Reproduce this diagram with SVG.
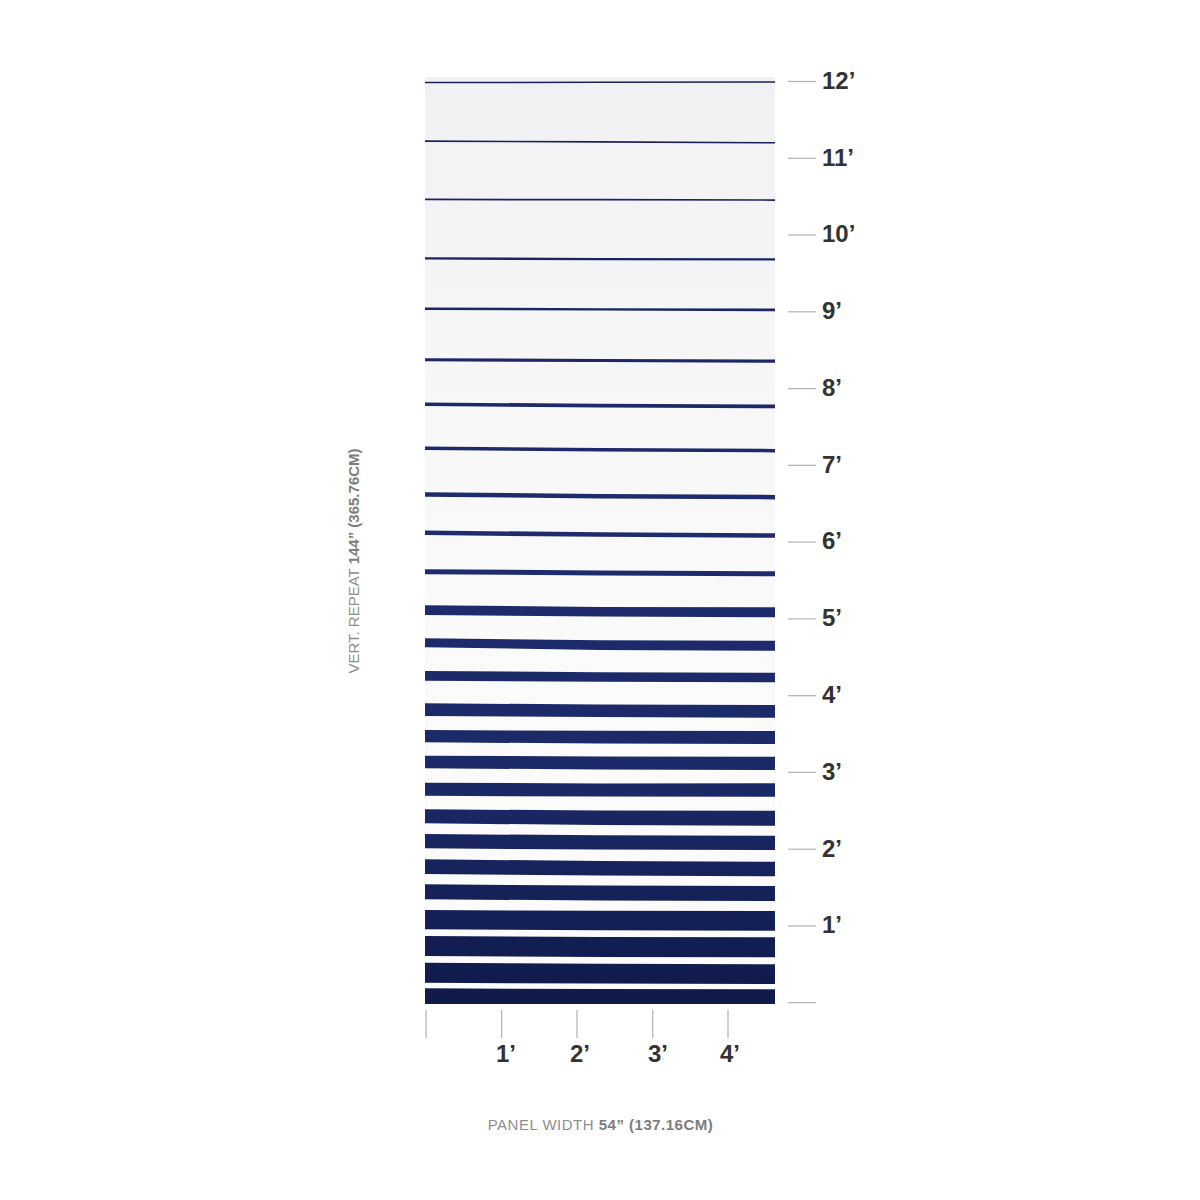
<svg xmlns="http://www.w3.org/2000/svg" width="1200" height="1200" viewBox="0 0 1200 1200">
<style>
.tick{stroke:#b3b3b3;stroke-width:1.2;fill:none}
.lbl{font-family:"Liberation Sans",Arial,sans-serif;font-weight:bold;font-size:24px;fill:#333333}
.cap{font-family:"Liberation Sans",Arial,sans-serif;font-size:15px;fill:#8e8e8e}
.capb{font-weight:bold;fill:#7d7d7d}
.st{fill:url(#ink)}
</style>
<defs>
<linearGradient id="bg" x1="0" y1="76" x2="0" y2="1004" gradientUnits="userSpaceOnUse">
<stop offset="0" stop-color="#f1f1f4"/>
<stop offset="0.3" stop-color="#f6f6f7"/>
<stop offset="0.6" stop-color="#fafafa"/>
<stop offset="1" stop-color="#fbfbfb"/>
</linearGradient>
<linearGradient id="ink" x1="0" y1="80" x2="0" y2="1004" gradientUnits="userSpaceOnUse">
<stop offset="0" stop-color="#1a2058"/>
<stop offset="0.5" stop-color="#1e2c6e"/>
<stop offset="0.75" stop-color="#1b2968"/>
<stop offset="1" stop-color="#0f1a4a"/>
</linearGradient>
</defs>
<rect width="1200" height="1200" fill="#ffffff"/>
<g id="panel">
<rect x="425" y="77" width="350" height="927" fill="url(#bg)"/>
<g id="stripes">
<path class="st" d="M425,81.8 L600,81.6 L775,81.2 L775,82.8 L600,83.1 L425,83.3 Z"/>
<path class="st" d="M425,140.3 L600,141.0 L775,142.0 L775,143.6 L600,142.7 L425,141.9 Z"/>
<path class="st" d="M425,198.6 L600,198.8 L775,199.2 L775,200.9 L600,200.5 L425,200.3 Z"/>
<path class="st" d="M425,257.2 L600,257.9 L775,258.3 L775,260.6 L600,260.3 L425,259.6 Z"/>
<path class="st" d="M425,307.5 L600,308.2 L775,308.6 L775,311.2 L600,310.6 L425,310.0 Z"/>
<path class="st" d="M425,358.2 L600,359.0 L775,359.6 L775,362.7 L600,362.1 L425,361.3 Z"/>
<path class="st" d="M425,402.5 L600,403.8 L775,404.6 L775,408.2 L600,407.4 L425,406.0 Z"/>
<path class="st" d="M425,446.5 L600,448.0 L775,448.9 L775,452.4 L600,451.6 L425,450.1 Z"/>
<path class="st" d="M425,492.2 L600,494.0 L775,494.9 L775,499.4 L600,498.6 L425,496.7 Z"/>
<path class="st" d="M425,530.6 L600,532.2 L775,533.2 L775,537.7 L600,536.8 L425,535.1 Z"/>
<path class="st" d="M425,569.2 L600,570.5 L775,571.2 L775,576.2 L600,575.4 L425,574.2 Z"/>
<path class="st" d="M425,605.3 L600,606.9 L775,607.3 L775,617.3 L600,616.6 L425,615.0 Z"/>
<path class="st" d="M425,638.3 L600,640.2 L775,640.7 L775,650.7 L600,650.0 L425,647.3 Z"/>
<path class="st" d="M425,671.0 L600,672.2 L775,672.7 L775,682.3 L600,681.8 L425,680.7 Z"/>
<path class="st" d="M425,703.3 L600,704.5 L775,705.0 L775,717.7 L600,717.0 L425,716.0 Z"/>
<path class="st" d="M425,730.0 L600,730.8 L775,731.0 L775,744.0 L600,743.5 L425,742.3 Z"/>
<path class="st" d="M425,755.7 L600,756.5 L775,756.7 L775,770.0 L600,769.5 L425,768.3 Z"/>
<path class="st" d="M425,782.7 L600,783.4 L775,783.3 L775,796.7 L600,796.6 L425,795.7 Z"/>
<path class="st" d="M425,809.3 L600,810.5 L775,810.7 L775,825.7 L600,825.0 L425,823.3 Z"/>
<path class="st" d="M425,834.0 L600,835.3 L775,835.7 L775,850.0 L600,849.6 L425,848.3 Z"/>
<path class="st" d="M425,859.3 L600,861.0 L775,861.7 L775,876.3 L600,875.6 L425,874.0 Z"/>
<path class="st" d="M425,884.3 L600,885.6 L775,886.0 L775,901.0 L600,900.5 L425,899.3 Z"/>
<path class="st" d="M425,910.0 L600,910.8 L775,911.0 L775,930.7 L600,930.3 L425,929.3 Z"/>
<path class="st" d="M425,936.0 L600,937.0 L775,937.3 L775,957.3 L600,957.0 L425,956.0 Z"/>
<path class="st" d="M425,962.7 L600,963.8 L775,964.3 L775,984.0 L600,983.6 L425,982.7 Z"/>
<path class="st" d="M425,988.3 L600,989.0 L775,989.3 L775,1004 L425,1004 Z"/>
</g>
</g>
<g id="ticks-right">
<line class="tick" x1="788" y1="81.5" x2="816" y2="81.5"/>
<line class="tick" x1="788" y1="158.3" x2="816" y2="158.3"/>
<line class="tick" x1="788" y1="235" x2="816" y2="235"/>
<line class="tick" x1="788" y1="311.8" x2="816" y2="311.8"/>
<line class="tick" x1="788" y1="388.6" x2="816" y2="388.6"/>
<line class="tick" x1="788" y1="465.3" x2="816" y2="465.3"/>
<line class="tick" x1="788" y1="542.1" x2="816" y2="542.1"/>
<line class="tick" x1="788" y1="618.9" x2="816" y2="618.9"/>
<line class="tick" x1="788" y1="695.7" x2="816" y2="695.7"/>
<line class="tick" x1="788" y1="772.4" x2="816" y2="772.4"/>
<line class="tick" x1="788" y1="849.2" x2="816" y2="849.2"/>
<line class="tick" x1="788" y1="926" x2="816" y2="926"/>
<line class="tick" x1="788" y1="1002.7" x2="816" y2="1002.7"/>
</g>
<g id="labels-right">
<text class="lbl" x="822" y="88.5">12’</text>
<text class="lbl" x="822" y="165.5">11’</text>
<text class="lbl" x="822" y="242">10’</text>
<text class="lbl" x="822" y="319">9’</text>
<text class="lbl" x="822" y="395.5">8’</text>
<text class="lbl" x="822" y="472.5">7’</text>
<text class="lbl" x="822" y="549">6’</text>
<text class="lbl" x="822" y="626">5’</text>
<text class="lbl" x="822" y="702.5">4’</text>
<text class="lbl" x="822" y="779.5">3’</text>
<text class="lbl" x="822" y="856.5">2’</text>
<text class="lbl" x="822" y="933">1’</text>
</g>
<g id="ticks-bottom">
<line class="tick" x1="426" y1="1010" x2="426" y2="1038"/>
<line class="tick" x1="501.7" y1="1010" x2="501.7" y2="1038"/>
<line class="tick" x1="577" y1="1010" x2="577" y2="1038"/>
<line class="tick" x1="652.7" y1="1010" x2="652.7" y2="1038"/>
<line class="tick" x1="728" y1="1010" x2="728" y2="1038"/>
</g>
<g id="labels-bottom">
<text class="lbl" x="496" y="1062">1’</text>
<text class="lbl" x="570" y="1062">2’</text>
<text class="lbl" x="648" y="1062">3’</text>
<text class="lbl" x="720" y="1062">4’</text>
</g>
<g id="captions">
<text class="cap" x="600.5" y="1130" text-anchor="middle" letter-spacing="0.5">PANEL WIDTH <tspan class="capb">54” (137.16CM)</tspan></text>
<text class="cap" transform="translate(358.5,561) rotate(-90)" text-anchor="middle">VERT. REPEAT <tspan class="capb">144” (365.76CM)</tspan></text>
</g>
</svg>
